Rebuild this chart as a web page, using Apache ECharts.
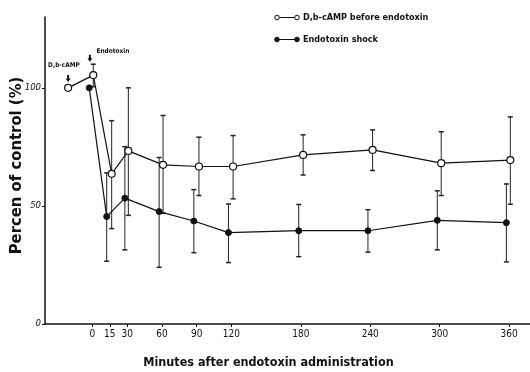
<!DOCTYPE html>
<html><head><meta charset="utf-8">
<script src="https://cdn.jsdelivr.net/npm/echarts@6/dist/echarts.min.js"></script>
<style>html,body{margin:0;padding:0;background:#fff}#c{width:530px;height:372px}</style>
</head><body><div id="c"></div>
<script>
// Tick labels (minutes) and y ticks
const xTicks = [0, 15, 30, 60, 90, 120, 180, 240, 300, 360];
const yTicks = [0, 50, 100];

// D,b-cAMP before endotoxin (open circles): plotted minutes, mean, upper, lower
const campX  = [-21, 0.7, 16.6, 31, 61, 92, 121.5, 182, 242, 301.3, 361];
const campY  = [100, 105.4, 63.6, 73.3, 67.4, 66.7, 66.7, 71.6, 73.7, 68.1, 69.4];
const campHi = [null, 110, 86.1, 100, 88.3, 79.1, 79.8, 80.1, 82.2, 81.4, 87.7];
const campLo = [null, 100.5, 40.4, 46, 46.9, 54.4, 53, 63.1, 65, 54.4, 50.7];

// Endotoxin shock (filled circles)
const shockX  = [-2.8, 12.3, 28, 57.6, 87.6, 117.5, 178.2, 238, 297.9, 357.6];
const shockY  = [100, 45.5, 53.3, 47.6, 43.6, 38.7, 39.5, 39.5, 43.9, 42.9];
const shockHi = [null, 64, 75.1, 70.5, 56.9, 50.8, 50.6, 48.4, 56.4, 59.3];
const shockLo = [null, 26.6, 31.4, 24, 30.2, 26, 28.5, 30.4, 31.4, 26.3];

const FONT = '"Liberation Sans Narrow","DejaVu Sans Condensed",sans-serif';

function pairs(xs, ys) { return xs.map((x, i) => [x, ys[i]]); }
function errData(xs, lo, hi) {
  const out = [];
  xs.forEach((x, i) => { if (hi[i] != null) out.push([x, lo[i], hi[i]]); });
  return out;
}
function errRender(params, api) {
  const x = api.value(0);
  const lo = api.coord([x, api.value(1)]);
  const hi = api.coord([x, api.value(2)]);
  const w = 2.5;
  return { type: 'group', children: [
    { type: 'line', shape: { x1: lo[0], y1: lo[1], x2: hi[0], y2: hi[1] }, style: { stroke: '#222', lineWidth: 1 } },
    { type: 'line', shape: { x1: hi[0] - w, y1: hi[1], x2: hi[0] + w, y2: hi[1] }, style: { stroke: '#222', lineWidth: 1.5 } },
    { type: 'line', shape: { x1: lo[0] - w, y1: lo[1], x2: lo[0] + w, y2: lo[1] }, style: { stroke: '#222', lineWidth: 1.5 } }
  ]};
}
const arrow = 'path://M3,0 L7,0 L7,6 L10,6 L5,12 L0,6 L3,6 Z';

const chart = echarts.init(document.getElementById('c'), null, { renderer: 'canvas' });
chart.setOption({
  animation: false,
  backgroundColor: '#fff',
  grid: { left: 45, right: 0, top: 17, bottom: 48, containLabel: false, outerBoundsMode: 'none' },
  xAxis: {
    type: 'value', min: -41, max: 378,
    name: 'Minutes after endotoxin administration',
    nameLocation: 'middle', nameGap: 32, nameMoveOverlap: false,
    nameTextStyle: { fontFamily: FONT, fontWeight: 'bold', fontSize: 12.5, color: '#111', padding: [0, 38, 0, 0] },
    axisLine: { onZero: false, lineStyle: { color: '#111', width: 1.5 } },
    axisTick: { show: true, length: 3, customValues: xTicks, lineStyle: { color: '#111' } },
    axisLabel: { customValues: xTicks, fontFamily: FONT, fontSize: 10, color: '#111', margin: 5 },
    splitLine: { show: false }
  },
  yAxis: {
    type: 'value', min: 0, max: 130,
    name: 'Percen of control (%)',
    nameLocation: 'middle', nameGap: 20, nameMoveOverlap: false,
    nameTextStyle: { fontFamily: FONT, fontWeight: 'bold', fontSize: 16.5, color: '#111', padding: [0, 0, 0, 10] },
    axisLine: { show: true, onZero: false, lineStyle: { color: '#111', width: 1.5 } },
    axisTick: { show: true, length: 3, customValues: yTicks, lineStyle: { color: '#111' } },
    axisLabel: { customValues: yTicks, fontFamily: FONT, fontStyle: 'italic', fontSize: 9.5, color: '#111', margin: 4 },
    splitLine: { show: false }
  },
  series: [
    { type: 'custom', name: 'errCamp', renderItem: errRender, data: errData(campX, campLo, campHi), z: 1, silent: true },
    { type: 'custom', name: 'errShock', renderItem: errRender, data: errData(shockX, shockLo, shockHi), z: 1, silent: true },
    {
      type: 'line', name: 'D,b-cAMP before endotoxin', data: pairs(campX, campY), z: 3,
      symbol: 'circle', symbolSize: 7, showAllSymbol: true,
      lineStyle: { color: '#111', width: 1.2 },
      itemStyle: { color: '#fff', borderColor: '#111', borderWidth: 1.2 },
      markPoint: {
        silent: true,
        data: [
          { coord: [-21, 104], symbol: arrow, symbolSize: [5, 7], itemStyle: { color: '#111' }, label: { show: false } },
          { coord: [-2.2, 112.5], symbol: arrow, symbolSize: [5, 7], itemStyle: { color: '#111' }, label: { show: false } },
          { coord: [-24.6, 109.7], symbol: 'rect', symbolSize: 1, itemStyle: { color: 'rgba(0,0,0,0)' },
            label: { show: true, position: 'inside', formatter: 'D,b-cAMP', fontFamily: FONT, fontWeight: 'bold', fontSize: 6.5, color: '#111' } },
          { coord: [17.7, 115.4], symbol: 'rect', symbolSize: 1, itemStyle: { color: 'rgba(0,0,0,0)' },
            label: { show: true, position: 'inside', formatter: 'Endotoxin', fontFamily: FONT, fontWeight: 'bold', fontSize: 6.5, color: '#111' } }
        ]
      }
    },
    {
      type: 'line', name: 'Endotoxin shock', data: pairs(shockX, shockY), z: 3,
      symbol: 'circle', symbolSize: 6, showAllSymbol: true,
      lineStyle: { color: '#111', width: 1.2 },
      itemStyle: { color: '#111', borderColor: '#111', borderWidth: 1 }
    }
  ],
  graphic: [
    { type: 'line', shape: { x1: 277, y1: 17.5, x2: 297, y2: 17.5 }, style: { stroke: '#111', lineWidth: 1 } },
    { type: 'circle', shape: { cx: 277, cy: 17.5, r: 2.3 }, style: { fill: '#fff', stroke: '#111', lineWidth: 1 } },
    { type: 'circle', shape: { cx: 297, cy: 17.5, r: 2.3 }, style: { fill: '#fff', stroke: '#111', lineWidth: 1 } },
    { type: 'text', x: 303, y: 17.5, style: { text: 'D,b-cAMP before endotoxin', fontFamily: FONT, fontWeight: 'bold', fontSize: 9, fill: '#111', verticalAlign: 'middle' } },
    { type: 'line', shape: { x1: 277, y1: 39.5, x2: 297, y2: 39.5 }, style: { stroke: '#111', lineWidth: 1 } },
    { type: 'circle', shape: { cx: 277, cy: 39.5, r: 2.3 }, style: { fill: '#111', stroke: '#111', lineWidth: 1 } },
    { type: 'circle', shape: { cx: 297, cy: 39.5, r: 2.3 }, style: { fill: '#111', stroke: '#111', lineWidth: 1 } },
    { type: 'text', x: 303, y: 39.5, style: { text: 'Endotoxin shock', fontFamily: FONT, fontWeight: 'bold', fontSize: 9, fill: '#111', verticalAlign: 'middle' } }
  ]
});
</script></body></html>
